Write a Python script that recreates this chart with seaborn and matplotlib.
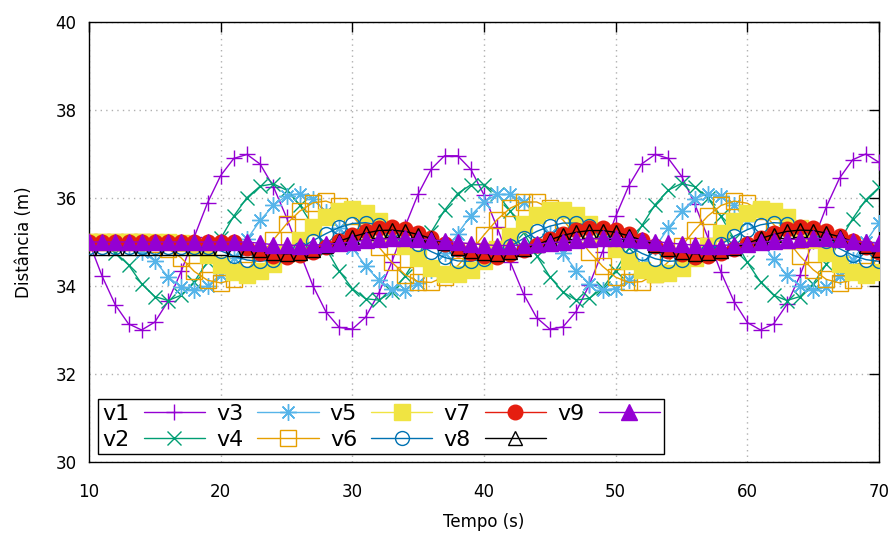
import matplotlib
matplotlib.use("Agg")
import matplotlib.pyplot as plt
import seaborn as sns
import pandas as pd

# ---------------- data ----------------
tempo = list(range(10, 71))

v1 = [35.00, 34.22, 33.57, 33.14, 33.00, 33.18, 33.65, 34.33, 35.12, 35.89,
      36.51, 36.90, 36.99, 36.77, 36.26, 35.56, 34.77, 34.01, 33.41, 33.06,
      33.02, 33.29, 33.83, 34.55, 35.35, 36.09, 36.66, 36.96, 36.96, 36.65,
      36.07, 35.33, 34.54, 33.82, 33.28, 33.02, 33.07, 33.42, 34.03, 34.78,
      35.58, 36.28, 36.78, 36.99, 36.90, 36.50, 35.87, 35.10, 34.31, 33.64,
      33.17, 33.00, 33.14, 33.58, 34.24, 35.02, 35.80, 36.45, 36.87, 37.00,
      36.81]
v2 = [35.00, 34.95, 34.76, 34.48, 34.05, 33.76, 33.67, 33.79, 34.10, 34.55,
      35.08, 35.59, 36.01, 36.27, 36.32, 36.18, 35.84, 35.37, 34.85, 34.34,
      33.94, 33.71, 33.68, 33.86, 34.22, 34.70, 35.23, 35.72, 36.10, 36.30,
      36.30, 36.09, 35.71, 35.22, 34.69, 34.21, 33.86, 33.68, 33.72, 33.95,
      34.35, 34.86, 35.38, 35.85, 36.18, 36.33, 36.26, 36.00, 35.58, 35.07,
      34.54, 34.09, 33.79, 33.67, 33.76, 34.05, 34.49, 35.01, 35.53, 35.96,
      36.24]
v3 = [35.00, 35.00, 34.98, 34.92, 34.78, 34.57, 34.21, 33.97, 33.90, 34.00,
      34.26, 34.63, 35.06, 35.49, 35.83, 36.05, 36.10, 35.97, 35.69, 35.31,
      34.87, 34.46, 34.13, 33.94, 33.91, 34.06, 34.36, 34.75, 35.19, 35.60,
      35.91, 36.08, 36.08, 35.91, 35.59, 35.18, 34.75, 34.35, 34.05, 33.91,
      33.94, 34.13, 34.47, 34.88, 35.32, 35.70, 35.98, 36.10, 36.04, 35.83,
      35.48, 35.05, 34.62, 34.25, 34.00, 33.90, 33.98, 34.22, 34.58, 35.01,
      35.44]
v4 = [35.00, 35.00, 35.00, 35.00, 34.99, 34.96, 34.85, 34.64, 34.33, 34.13,
      34.07, 34.15, 34.37, 34.69, 35.05, 35.41, 35.70, 35.89, 35.93, 35.82,
      35.59, 35.26, 34.89, 34.54, 34.26, 34.10, 34.08, 34.21, 34.46, 34.79,
      35.16, 35.51, 35.77, 35.91, 35.91, 35.77, 35.50, 35.15, 34.78, 34.45,
      34.20, 34.08, 34.10, 34.27, 34.55, 34.90, 35.27, 35.59, 35.83, 35.93,
      35.88, 35.70, 35.40, 35.05, 34.68, 34.37, 34.15, 34.07, 34.14, 34.34,
      34.65]
v5 = [35.00, 35.00, 35.00, 35.00, 35.00, 35.00, 34.99, 34.97, 34.88, 34.71,
      34.47, 34.31, 34.26, 34.33, 34.50, 34.75, 35.04, 35.33, 35.56, 35.70,
      35.74, 35.65, 35.47, 35.21, 34.91, 34.63, 34.41, 34.28, 34.27, 34.37,
      34.57, 34.84, 35.13, 35.40, 35.61, 35.73, 35.72, 35.61, 35.40, 35.12,
      34.83, 34.56, 34.36, 34.27, 34.29, 34.42, 34.64, 34.92, 35.21, 35.47,
      35.66, 35.74, 35.70, 35.56, 35.32, 35.04, 34.75, 34.50, 34.32, 34.26,
      34.31]
v6 = [34.88, 34.88, 34.88, 34.88, 34.88, 34.88, 34.88, 34.88, 34.88, 34.88,
      34.80, 34.68, 34.59, 34.56, 34.60, 34.70, 34.85, 35.03, 35.19, 35.33,
      35.42, 35.44, 35.39, 35.28, 35.12, 34.95, 34.78, 34.65, 34.57, 34.56,
      34.62, 34.74, 34.90, 35.08, 35.24, 35.36, 35.43, 35.43, 35.36, 35.24,
      35.07, 34.90, 34.74, 34.62, 34.56, 34.58, 34.65, 34.79, 34.95, 35.13,
      35.28, 35.39, 35.44, 35.42, 35.33, 35.19, 35.02, 34.85, 34.70, 34.60,
      34.56]
v7 = [35.00, 35.00, 35.00, 35.00, 35.00, 35.00, 35.00, 35.00, 35.00, 35.00,
      35.00, 35.00, 34.87, 34.76, 34.69, 34.67, 34.70, 34.78, 34.89, 35.02,
      35.15, 35.25, 35.31, 35.33, 35.29, 35.21, 35.09, 34.96, 34.84, 34.74,
      34.68, 34.67, 34.72, 34.81, 34.93, 35.06, 35.18, 35.27, 35.32, 35.32,
      35.27, 35.18, 35.05, 34.92, 34.80, 34.72, 34.67, 34.68, 34.74, 34.84,
      34.96, 35.10, 35.21, 35.29, 35.33, 35.31, 35.25, 35.14, 35.02, 34.89,
      34.78]
v8 = [34.86, 34.86, 34.86, 34.86, 34.86, 34.86, 34.86, 34.86, 34.86, 34.86,
      34.86, 34.85, 34.82, 34.81, 34.75, 34.73, 34.75, 34.82, 34.91, 35.02,
      35.12, 35.20, 35.26, 35.27, 35.24, 35.17, 35.08, 34.97, 34.87, 34.79,
      34.74, 34.73, 34.77, 34.84, 34.94, 35.05, 35.15, 35.22, 35.26, 35.26,
      35.22, 35.14, 35.04, 34.94, 34.84, 34.77, 34.73, 34.74, 34.79, 34.87,
      34.97, 35.08, 35.17, 35.24, 35.27, 35.26, 35.20, 35.12, 35.01, 34.91,
      34.82]
v9 = [35.00, 35.00, 35.00, 35.00, 35.00, 35.00, 35.00, 35.00, 35.00, 35.00,
      35.00, 35.00, 35.00, 34.97, 34.94, 34.93, 34.92, 34.93, 34.95, 34.97,
      35.00, 35.04, 35.06, 35.08, 35.08, 35.07, 35.05, 35.02, 34.99, 34.96,
      34.94, 34.92, 34.92, 34.93, 34.95, 34.98, 35.01, 35.04, 35.07, 35.08,
      35.08, 35.07, 35.04, 35.01, 34.98, 34.95, 34.93, 34.92, 34.92, 34.94,
      34.96, 34.99, 35.02, 35.05, 35.07, 35.08, 35.08, 35.06, 35.03, 35.00,
      34.97]

series_names = ["v1", "v2", "v3", "v4", "v5", "v6", "v7", "v8", "v9"]
series_values = [v1, v2, v3, v4, v5, v6, v7, v8, v9]
x_ticks = [10, 20, 30, 40, 50, 60, 70]
y_ticks = [30, 32, 34, 36, 38, 40]

# ---------------- styles (gnuplot-like) ----------------
colors = ["#9400d3", "#009e73", "#56b4e9", "#e69f00", "#f0e442",
          "#0072b2", "#e51e10", "#000000", "#9400d3"]
markers = ["+", "x", (8, 2, 0), "s", "s", "o", "o", "^", "^"]
filled = [True, True, True, False, True, False, True, False, True]
msizes = [12, 10, 12, 11, 11, 10, 10.5, 10, 11]

sns.set_theme(style="white")
plt.rcParams["font.family"] = ["DejaVu Sans"]
plt.rcParams["text.color"] = "black"
plt.rcParams["axes.labelcolor"] = "black"

fig = plt.figure(figsize=(8.93, 5.36), dpi=100)
ax = fig.add_axes([89 / 893, 1 - 462 / 536, 790 / 893, 440 / 536])

for i, (name, vals) in enumerate(zip(series_names, series_values)):
    df = pd.DataFrame({"Tempo": tempo, "Dist": vals})
    fc = colors[i] if filled[i] else "none"
    sns.lineplot(data=df, x="Tempo", y="Dist", ax=ax, color=colors[i],
                 linewidth=1.0, marker=markers[i], markersize=msizes[i],
                 markerfacecolor=fc, markeredgecolor=colors[i],
                 markeredgewidth=1.0, label=name, zorder=3 + i)

ax.set_xlim(10, 70)
ax.set_ylim(30, 40)
ax.set_xticks(x_ticks)
ax.set_yticks(y_ticks)
ax.tick_params(direction="in", length=7, width=1, top=True, right=True,
               labelsize=12, colors="black")
ax.tick_params(axis="x", pad=15)
ax.tick_params(axis="y", pad=9)
ax.grid(True, linestyle=(0, (1, 3)), color="#b0b0b0", linewidth=1.0, zorder=0)
for sp in ax.spines.values():
    sp.set_color("black")
    sp.set_linewidth(1.0)
ax.set_xlabel("Tempo (s)", fontsize=12, labelpad=9, color="black")
ax.set_ylabel("Distância (m)", fontsize=12, labelpad=16, color="black")

handles, labels = ax.get_legend_handles_labels()
leg = ax.legend(handles, labels, ncol=5, loc="lower left",
                bbox_to_anchor=(0.0114, 0.018), borderaxespad=0,
                markerfirst=False, fontsize=16, handlelength=2.75,
                handletextpad=0.63, columnspacing=0.51, labelspacing=0.27,
                borderpad=0.2, fancybox=False, framealpha=1,
                edgecolor="black", numpoints=1)
leg.get_frame().set_linewidth(1.0)
for txt in leg.get_texts():
    txt.set_color("black")

fig.savefig("out.png", dpi=100)
